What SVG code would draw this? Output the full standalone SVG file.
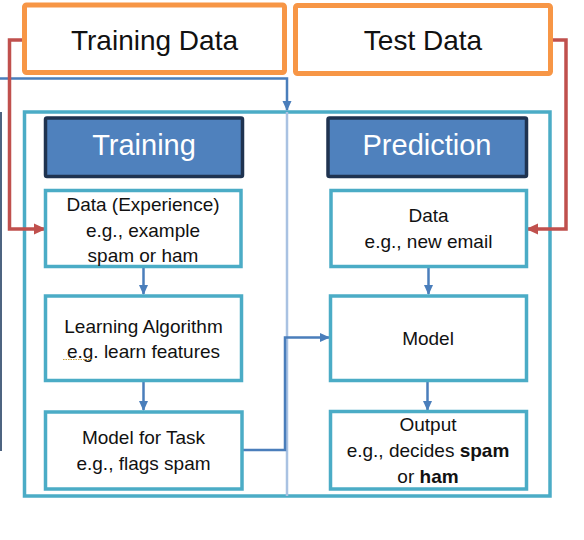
<svg xmlns="http://www.w3.org/2000/svg" width="584" height="540" viewBox="0 0 584 540">
<defs>
<style>
.src{fill:#fff;stroke:#f79646;stroke-width:5}
.box{fill:#fff;stroke:#4bacc6;stroke-width:3.5}
.hdr{fill:#4f81bd;stroke:#1f3350;stroke-width:3.5}
.big{fill:none;stroke:#4bacc6;stroke-width:3.5}
.t{font-family:"Liberation Sans",Arial,sans-serif;fill:#111;text-anchor:middle}
.lg{font-size:28px}
.hd{font-size:29px;fill:#fff}
.md{font-size:19px}
.b{font-weight:bold}
.blue{fill:none;stroke:#4a7ebb;stroke-width:2.5}
.red{fill:none;stroke:#c0504d;stroke-width:3.5}
</style>
<marker id="ab" markerWidth="10" markerHeight="10" refX="9" refY="5" orient="auto" markerUnits="userSpaceOnUse"><path d="M0,0.5 L10,5 L0,9.5 z" fill="#4a7ebb"/></marker>
<marker id="ar" markerWidth="12" markerHeight="12" refX="11" refY="6" orient="auto" markerUnits="userSpaceOnUse"><path d="M0,0.5 L12,6 L0,11.5 z" fill="#c0504d"/></marker>
</defs>
<rect width="584" height="540" fill="#fff"/>

<g id="container">
<rect class="big" x="24.5" y="112" width="525.5" height="384"/>
<line x1="287" y1="112" x2="287" y2="496" stroke="#a9c2e2" stroke-width="2.5"/>
</g>
<line id="left-edge" x1="1" y1="112" x2="1" y2="451" stroke="#4d6481" stroke-width="2"/>

<g id="connectors">
<path class="blue" d="M0,78.5 H287 V110" marker-end="url(#ab)"/>
<path class="red" d="M24,40 H9.5 V229 H45" marker-end="url(#ar)"/>
<path class="red" d="M552,40 H566 V229 H527" marker-end="url(#ar)"/>
<path class="blue" d="M143.5,267 V294" marker-end="url(#ab)"/>
<path class="blue" d="M143.5,381 V410" marker-end="url(#ab)"/>
<path class="blue" d="M242,450 H285 V337.5 H329" marker-end="url(#ab)"/>
<path class="blue" d="M428.5,267 V294" marker-end="url(#ab)"/>
<path class="blue" d="M427.5,381 V410" marker-end="url(#ab)"/>
</g>

<g id="training-data">
<rect class="src" x="24.5" y="5" width="260" height="67.5" rx="2"/>
<text class="t lg" x="154.5" y="50">Training Data</text>
</g>
<g id="test-data">
<rect class="src" x="295.5" y="5.5" width="255" height="68" rx="2"/>
<text class="t lg" x="423" y="50">Test Data</text>
</g>

<g id="training">
<rect class="hdr" x="45.5" y="118" width="197" height="58.5" rx="1.5"/>
<text class="t hd" x="144" y="155">Training</text>
</g>
<g id="prediction">
<rect class="hdr" x="328" y="118" width="198.5" height="58.5" rx="1.5"/>
<text class="t hd" x="427" y="155">Prediction</text>
</g>

<g id="data-experience">
<rect class="box" x="45.5" y="190.5" width="195.5" height="76"/>
<text class="t md" x="143" y="210.5">Data (Experience)</text>
<text class="t md" x="143" y="236.5">e.g., example</text>
<text class="t md" x="143" y="262">spam or ham</text>
</g>
<g id="learning-algorithm">
<rect class="box" x="45.5" y="296" width="196" height="84.5"/>
<text class="t md" x="143.5" y="332.5">Learning Algorithm</text>
<text class="t md" x="143.5" y="358">e.g. learn features</text>
<line x1="63" y1="359.5" x2="93" y2="359.5" stroke="#c9a13a" stroke-width="1" stroke-dasharray="1.5,1"/>
</g>
<g id="model-for-task">
<rect class="box" x="45.5" y="412" width="196.5" height="77"/>
<text class="t md" x="143.5" y="443.5">Model for Task</text>
<text class="t md" x="143.5" y="469.5">e.g., flags spam</text>
</g>

<g id="data-new">
<rect class="box" x="331" y="190.5" width="195.5" height="76"/>
<text class="t md" x="428.5" y="221.5">Data</text>
<text class="t md" x="428.5" y="247.5">e.g., new email</text>
</g>
<g id="model">
<rect class="box" x="330.5" y="296" width="196" height="84.5"/>
<text class="t md" x="428" y="345">Model</text>
</g>
<g id="output">
<rect class="box" x="330.5" y="411.5" width="196" height="77.5"/>
<text class="t md" x="428" y="430.5">Output</text>
<text class="t md" x="428" y="456.5">e.g., decides <tspan class="b">spam</tspan></text>
<text class="t md" x="428" y="482.5">or <tspan class="b">ham</tspan></text>
</g>
</svg>
